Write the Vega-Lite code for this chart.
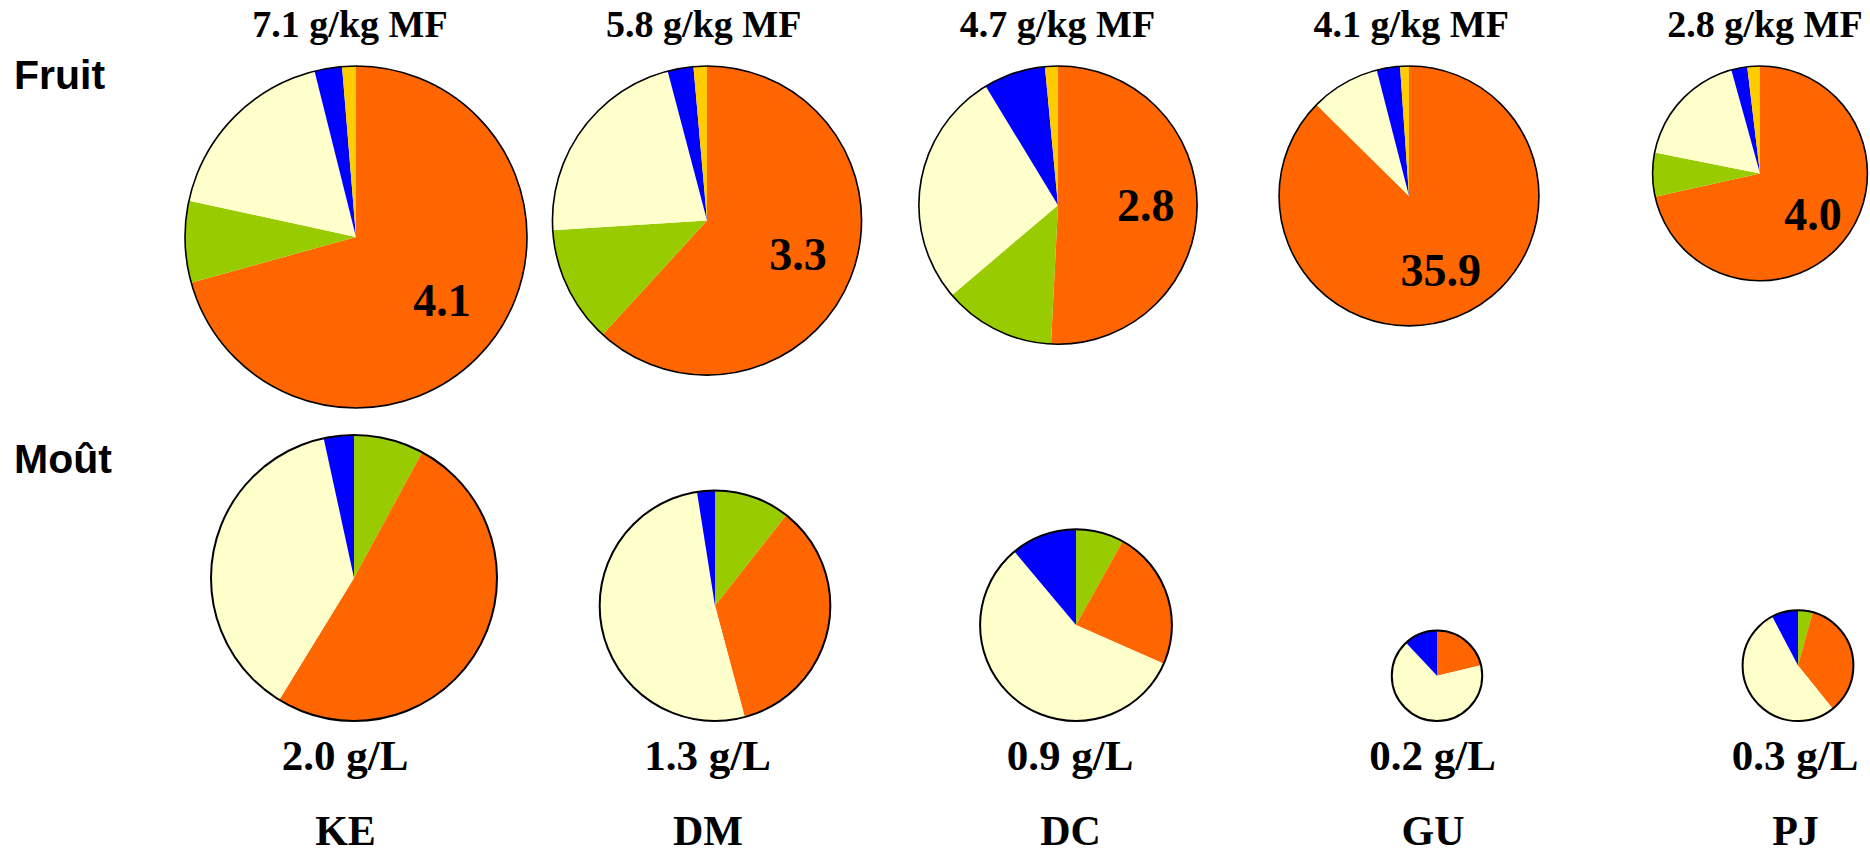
{
  "$schema": "https://vega.github.io/schema/vega-lite/v6.json",
  "width": 1870,
  "height": 853,
  "padding": 0,
  "autosize": {"type": "none"},
  "background": "#ffffff",
  "config": {
    "view": {"stroke": null},
    "text": {"font": "Liberation Serif", "fontWeight": "bold", "fill": "#000000"}
  },
  "datasets": {
    "fruitPies": [
      {"site": "KE", "type": "Fruit", "total": 7.1, "label": "7.1 g/kg MF", "inner": "4.1"},
      {"site": "DM", "type": "Fruit", "total": 5.8, "label": "5.8 g/kg MF", "inner": "3.3"},
      {"site": "DC", "type": "Fruit", "total": 4.7, "label": "4.7 g/kg MF", "inner": "2.8"},
      {"site": "GU", "type": "Fruit", "total": 4.1, "label": "4.1 g/kg MF", "inner": "35.9"},
      {"site": "PJ", "type": "Fruit", "total": 2.8, "label": "2.8 g/kg MF", "inner": "4.0"}
    ],
    "mustPies": [
      {"site": "KE", "type": "Moût", "total": 2.0, "label": "2.0 g/L"},
      {"site": "DM", "type": "Moût", "total": 1.3, "label": "1.3 g/L"},
      {"site": "DC", "type": "Moût", "total": 0.9, "label": "0.9 g/L"},
      {"site": "GU", "type": "Moût", "total": 0.2, "label": "0.2 g/L"},
      {"site": "PJ", "type": "Moût", "total": 0.3, "label": "0.3 g/L"}
    ],
    "fruitParts": [
      {"site": "KE", "comp": "A", "rank": 1, "share": 70.7},
      {"site": "KE", "comp": "B", "rank": 2, "share": 7.7},
      {"site": "KE", "comp": "C", "rank": 3, "share": 17.7},
      {"site": "KE", "comp": "D", "rank": 4, "share": 2.6},
      {"site": "KE", "comp": "E", "rank": 5, "share": 1.3},
      {"site": "DM", "comp": "A", "rank": 1, "share": 61.8},
      {"site": "DM", "comp": "B", "rank": 2, "share": 12.2},
      {"site": "DM", "comp": "C", "rank": 3, "share": 21.9},
      {"site": "DM", "comp": "D", "rank": 4, "share": 2.7},
      {"site": "DM", "comp": "E", "rank": 5, "share": 1.4},
      {"site": "DC", "comp": "A", "rank": 1, "share": 50.8},
      {"site": "DC", "comp": "B", "rank": 2, "share": 13.0},
      {"site": "DC", "comp": "C", "rank": 3, "share": 27.5},
      {"site": "DC", "comp": "D", "rank": 4, "share": 7.2},
      {"site": "DC", "comp": "E", "rank": 5, "share": 1.5},
      {"site": "GU", "comp": "A", "rank": 1, "share": 87.4},
      {"site": "GU", "comp": "C", "rank": 3, "share": 8.6},
      {"site": "GU", "comp": "D", "rank": 4, "share": 2.9},
      {"site": "GU", "comp": "E", "rank": 5, "share": 1.1},
      {"site": "PJ", "comp": "A", "rank": 1, "share": 71.5},
      {"site": "PJ", "comp": "B", "rank": 2, "share": 6.6},
      {"site": "PJ", "comp": "C", "rank": 3, "share": 17.6},
      {"site": "PJ", "comp": "D", "rank": 4, "share": 2.4},
      {"site": "PJ", "comp": "E", "rank": 5, "share": 1.9}
    ],
    "mustParts": [
      {"site": "KE", "comp": "B", "rank": 1, "share": 7.9},
      {"site": "KE", "comp": "A", "rank": 2, "share": 50.8},
      {"site": "KE", "comp": "C", "rank": 3, "share": 37.8},
      {"site": "KE", "comp": "D", "rank": 4, "share": 3.4},
      {"site": "DM", "comp": "B", "rank": 1, "share": 10.6},
      {"site": "DM", "comp": "A", "rank": 2, "share": 35.2},
      {"site": "DM", "comp": "C", "rank": 3, "share": 51.6},
      {"site": "DM", "comp": "D", "rank": 4, "share": 2.5},
      {"site": "DC", "comp": "B", "rank": 1, "share": 8.1},
      {"site": "DC", "comp": "A", "rank": 2, "share": 23.5},
      {"site": "DC", "comp": "C", "rank": 3, "share": 57.3},
      {"site": "DC", "comp": "D", "rank": 4, "share": 11.1},
      {"site": "GU", "comp": "A", "rank": 2, "share": 21.3},
      {"site": "GU", "comp": "C", "rank": 3, "share": 66.7},
      {"site": "GU", "comp": "D", "rank": 4, "share": 12.0},
      {"site": "PJ", "comp": "B", "rank": 1, "share": 4.3},
      {"site": "PJ", "comp": "A", "rank": 2, "share": 34.9},
      {"site": "PJ", "comp": "C", "rank": 3, "share": 53.1},
      {"site": "PJ", "comp": "D", "rank": 4, "share": 7.7}
    ]
  },
  "resolve": {"scale": {"x": "independent", "y": "independent", "radius": "independent", "theta": "independent"}},
  "layer": [
    {
      "data": {"name": "fruitParts"},
      "transform": [
        {"lookup": "site", "from": {"data": {"name": "fruitPies"}, "key": "site", "fields": ["total"]}},
        {"stack": "share", "groupby": ["site"], "sort": [{"field": "rank", "order": "ascending"}], "offset": "normalize", "as": ["t0", "t1"]}
      ],
      "mark": {"type": "arc"},
      "encoding": {
        "x": {"field": "site", "type": "nominal", "axis": null, "scale": {"type": "point", "domain": ["KE", "DM", "DC", "GU", "PJ"], "range": [356, 1760], "padding": 0}},
        "y": {"field": "total", "type": "quantitative", "stack": null, "axis": null, "scale": {"type": "sqrt", "domain": [0, 7.1], "range": [66, 237], "nice": false, "zero": true}},
        "radius": {"field": "total", "type": "quantitative", "scale": {"type": "sqrt", "domain": [0, 7.1], "range": [0, 171], "nice": false, "zero": true}},
        "theta": {"field": "t0", "type": "quantitative", "scale": {"domain": [0, 1], "range": [0, 6.283185307179586]}},
        "theta2": {"field": "t1"},
        "color": {"field": "comp", "type": "nominal", "legend": null, "scale": {"domain": ["A", "B", "C", "D", "E"], "range": ["#FF6600", "#99CC00", "#FFFFCC", "#0000FF", "#FFCC00"]}}
      }
    },
    {
      "data": {"name": "fruitPies"},
      "mark": {"type": "arc", "theta": 0, "theta2": 6.283185307179586, "fill": "#ffffff", "fillOpacity": 0, "stroke": "#000000", "strokeWidth": 1.6},
      "encoding": {
        "x": {"field": "site", "type": "nominal", "axis": null, "scale": {"type": "point", "domain": ["KE", "DM", "DC", "GU", "PJ"], "range": [356, 1760], "padding": 0}},
        "y": {"field": "total", "type": "quantitative", "stack": null, "axis": null, "scale": {"type": "sqrt", "domain": [0, 7.1], "range": [66, 237], "nice": false, "zero": true}},
        "radius": {"field": "total", "type": "quantitative", "scale": {"type": "sqrt", "domain": [0, 7.1], "range": [0, 171], "nice": false, "zero": true}}
      }
    },
    {
      "data": {"name": "fruitParts"},
      "transform": [
        {"lookup": "site", "from": {"data": {"name": "fruitPies"}, "key": "site", "fields": ["total", "inner"]}},
        {"stack": "share", "groupby": ["site"], "sort": [{"field": "rank", "order": "ascending"}], "offset": "normalize", "as": ["t0", "t1"]},
        {"filter": "datum.comp === 'A'"}
      ],
      "mark": {"type": "text", "fontSize": 46, "align": "center", "baseline": "middle"},
      "encoding": {
        "x": {"field": "site", "type": "nominal", "axis": null, "scale": {"type": "point", "domain": ["KE", "DM", "DC", "GU", "PJ"], "range": [356, 1760], "padding": 0}},
        "y": {"field": "total", "type": "quantitative", "stack": null, "axis": null, "scale": {"type": "sqrt", "domain": [0, 7.1], "range": [66, 237], "nice": false, "zero": true}},
        "radius": {"field": "total", "type": "quantitative", "scale": {"type": "sqrt", "domain": [0, 7.1], "range": [0, 108], "nice": false, "zero": true}},
        "theta": {"field": "t1", "type": "quantitative", "scale": {"domain": [0, 2], "range": [0, 6.283185307179586]}},
        "text": {"field": "inner", "type": "nominal"}
      }
    },
    {
      "data": {"name": "fruitPies"},
      "mark": {"type": "text", "fontSize": 38, "align": "center", "baseline": "alphabetic"},
      "encoding": {
        "x": {"field": "site", "type": "nominal", "axis": null, "scale": {"type": "point", "domain": ["KE", "DM", "DC", "GU", "PJ"], "range": [350, 1765], "padding": 0}},
        "y": {"field": "type", "type": "nominal", "axis": null, "scale": {"type": "point", "domain": ["Fruit", "Moût"], "range": [37, 770], "padding": 0}},
        "text": {"field": "label", "type": "nominal"}
      }
    },
    {
      "data": {"name": "mustParts"},
      "transform": [
        {"lookup": "site", "from": {"data": {"name": "mustPies"}, "key": "site", "fields": ["total"]}},
        {"stack": "share", "groupby": ["site"], "sort": [{"field": "rank", "order": "ascending"}], "offset": "normalize", "as": ["t0", "t1"]}
      ],
      "mark": {"type": "arc"},
      "encoding": {
        "x": {"field": "site", "type": "nominal", "axis": null, "scale": {"type": "point", "domain": ["KE", "DM", "DC", "GU", "PJ"], "range": [354, 1798], "padding": 0}},
        "y": {"field": "total", "type": "quantitative", "stack": null, "axis": null, "scale": {"type": "sqrt", "domain": [0, 2], "range": [721, 578], "nice": false, "zero": true}},
        "radius": {"field": "total", "type": "quantitative", "scale": {"type": "sqrt", "domain": [0, 2], "range": [0, 143], "nice": false, "zero": true}},
        "theta": {"field": "t0", "type": "quantitative", "scale": {"domain": [0, 1], "range": [0, 6.283185307179586]}},
        "theta2": {"field": "t1"},
        "color": {"field": "comp", "type": "nominal", "legend": null, "scale": {"domain": ["A", "B", "C", "D", "E"], "range": ["#FF6600", "#99CC00", "#FFFFCC", "#0000FF", "#FFCC00"]}}
      }
    },
    {
      "data": {"name": "mustPies"},
      "mark": {"type": "arc", "theta": 0, "theta2": 6.283185307179586, "fill": "#ffffff", "fillOpacity": 0, "stroke": "#000000", "strokeWidth": 2},
      "encoding": {
        "x": {"field": "site", "type": "nominal", "axis": null, "scale": {"type": "point", "domain": ["KE", "DM", "DC", "GU", "PJ"], "range": [354, 1798], "padding": 0}},
        "y": {"field": "total", "type": "quantitative", "stack": null, "axis": null, "scale": {"type": "sqrt", "domain": [0, 2], "range": [721, 578], "nice": false, "zero": true}},
        "radius": {"field": "total", "type": "quantitative", "scale": {"type": "sqrt", "domain": [0, 2], "range": [0, 143], "nice": false, "zero": true}}
      }
    },
    {
      "data": {"name": "mustPies"},
      "mark": {"type": "text", "fontSize": 43, "align": "center", "baseline": "alphabetic"},
      "encoding": {
        "x": {
          "field": "site", "type": "nominal",
          "scale": {"type": "point", "domain": ["KE", "DM", "DC", "GU", "PJ"], "range": [345, 1795], "padding": 0},
          "axis": {"orient": "bottom", "title": null, "domain": false, "ticks": false, "tickSize": 0, "grid": false, "labelPadding": -9, "labelBaseline": "alphabetic", "labelAngle": 0, "labelFont": "Liberation Serif", "labelFontWeight": "bold", "labelFontSize": 42, "labelColor": "#000000", "labelOverlap": false, "labelFlush": false, "labelBound": false}
        },
        "y": {"field": "type", "type": "nominal", "axis": null, "scale": {"type": "point", "domain": ["Fruit", "Moût"], "range": [37, 770], "padding": 0}},
        "text": {"field": "label", "type": "nominal"}
      }
    },
    {
      "data": {"values": [{"row": "Fruit"}, {"row": "Moût"}]},
      "mark": {"type": "text", "font": "Liberation Sans", "fontWeight": "bold", "fontSize": 41, "align": "left", "baseline": "alphabetic"},
      "encoding": {
        "x": {"field": "row", "type": "nominal", "axis": null, "scale": {"type": "point", "range": [14, 14], "padding": 0}},
        "y": {"field": "row", "type": "nominal", "axis": null, "scale": {"type": "point", "domain": ["Fruit", "Moût"], "range": [89, 473], "padding": 0}},
        "text": {"field": "row", "type": "nominal"}
      }
    }
  ]
}
